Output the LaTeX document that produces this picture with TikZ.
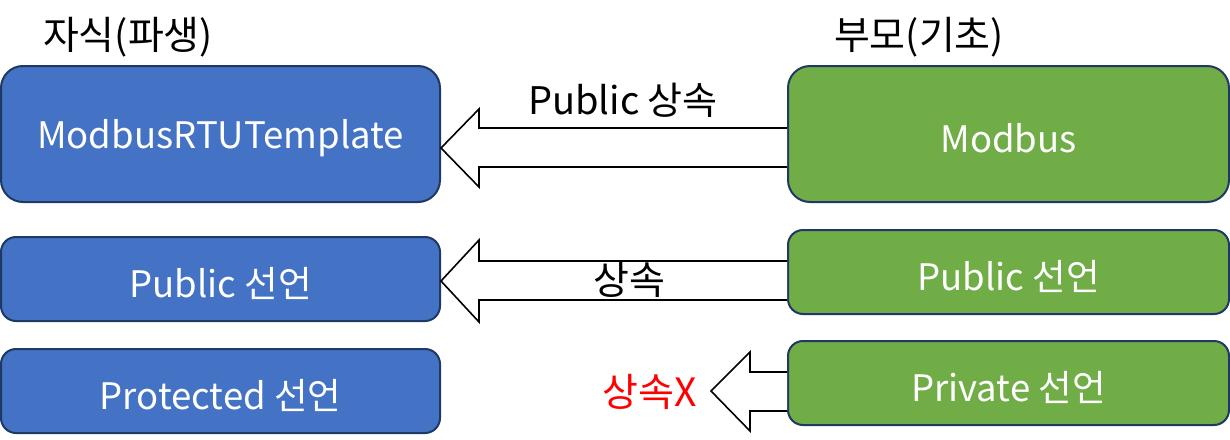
\documentclass[tikz,border=0pt]{standalone}
\usepackage{fontspec}
\setmainfont{Noto Sans CJK KR}
\usetikzlibrary{calc}
\definecolor{boxblue}{HTML}{4472C4}
\definecolor{boxgreen}{HTML}{70AD47}
\definecolor{boxline}{HTML}{1F3864}
\newcommand{\dn}[1]{\raisebox{-4pt}[\height][\depth]{#1}}
\begin{document}
\begin{tikzpicture}[x=1pt,y=-1pt,
  cls/.style={draw=boxline, line width=2pt, rounded corners=15pt, text=white,
    inner sep=0pt, font=\fontsize{36.5}{42}\selectfont},
  child/.style={cls, fill=boxblue},
  parent/.style={cls, fill=boxgreen},
  blockarrow/.style={draw=black, line width=1.6pt, fill=white, line join=miter},
  lbl/.style={font=\fontsize{39}{44}\selectfont, inner sep=0pt}]
\useasboundingbox (0,0) rectangle (1230,439);

\node[lbl] (tc) at (128,37) {자식(파생)};
\node[lbl] (tp) at (919,37) {부모(기초)};

\node[child, rounded corners=22pt, minimum width=439pt, minimum height=136pt] (c1) at (220.5,134) {\dn{ModbusRTUTemplate}};
\node[child, minimum width=439pt, minimum height=84pt] (c2) at (220.5,279) {\dn{Public 선언}};
\node[child, minimum width=439pt, minimum height=84pt] (c3) at (220.5,391) {\dn{Protected 선언}};

\node[parent, rounded corners=22pt, minimum width=441pt, minimum height=136pt] (p1) at (1008.5,134) {\dn{Modbus}};
\node[parent, minimum width=441pt, minimum height=84pt] (p2) at (1008.5,272) {\dn{Public 선언}};
\node[parent, minimum width=441pt, minimum height=84pt] (p3) at (1008.5,383) {\dn{Private 선언}};

% block arrows
\draw[blockarrow] (p1.west |- 0,128) -- (479,128) -- (479,109) -- (c1.east |- 0,148) -- (479,187) -- (479,167) -- (p1.west |- 0,167);
\draw[blockarrow] (p2.west |- 0,261) -- (479,261) -- (479,240) -- (c2.east |- 0,281) -- (479,322) -- (479,300) -- (p2.west |- 0,300);
\draw[blockarrow] (p3.west |- 0,372) -- (750,372) -- (750,352) -- (711,391) -- (750,431) -- (750,411) -- (p3.west |- 0,411);

\node[lbl, font=\fontsize{38}{43}\selectfont] (l1) at (623,100) {Public 상속};
\node[lbl] (l2) at (629,280) {상속};
\node[lbl, text=red] (l3) at (650,392) {상속X};
\end{tikzpicture}
\end{document}
